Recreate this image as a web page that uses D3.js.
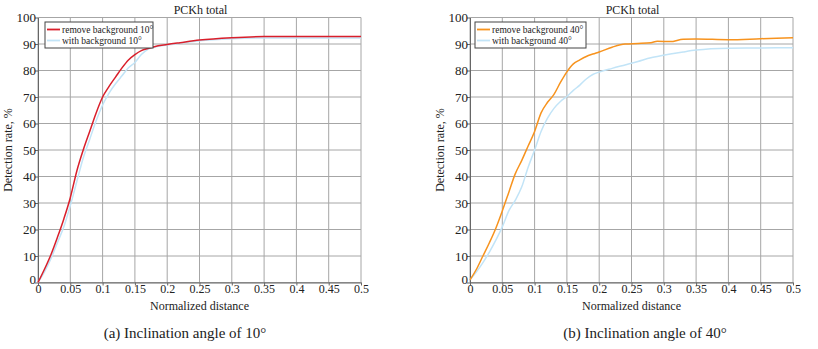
<!DOCTYPE html>
<html><head><meta charset="utf-8">
<script src="https://cdn.jsdelivr.net/npm/d3@7"></script>
<style>body{margin:0;background:#fff}svg{display:block}svg text{font-family:"Liberation Serif","Times New Roman",serif !important;fill:#222}</style>
</head><body><svg id="c" width="818" height="349"></svg>
<script>
const xTicks = [0,0.05,0.1,0.15,0.2,0.25,0.3,0.35,0.4,0.45,0.5];
const yTicks = [0,10,20,30,40,50,60,70,80,90,100];
const xTickLabels = ["0","0.05","0.1","0.15","0.2","0.25","0.3","0.35","0.4","0.45","0.5"];

const distA = [0,0.01,0.02,0.03,0.04,0.05,0.06,0.07,0.08,0.09,0.1,0.11,0.12,0.13,0.14,0.15,0.16,0.17,0.18,0.2,0.22,0.25,0.3,0.35,0.4,0.5];
const removeBg10 = [0,5,10.5,17,24,32,42,50,57,64,70,74,77.5,81,84,86,87.5,88.3,89,89.8,90.5,91.5,92.4,92.8,92.8,92.8];
const withBg10   = [0,4,9,15,21,29,38,47,54,61,67,71.5,75,78,81,83,86,88,88.8,89.6,90.3,91.2,92.0,92.3,92.3,92.3];

const distB = [0,0.01,0.02,0.03,0.04,0.05,0.06,0.07,0.08,0.09,0.1,0.11,0.12,0.13,0.14,0.15,0.16,0.17,0.18,0.19,0.2,0.22,0.24,0.26,0.28,0.29,0.31,0.33,0.35,0.4,0.45,0.5];
const removeBg40 = [1,5,10,15,20.5,27,34,41,46,51.5,57,64,68,71,75.5,79.5,82.5,84,85.3,86.2,87,88.8,90,90.2,90.5,91,90.9,91.8,91.9,91.6,92,92.4];
const withBg40   = [1,4,7.5,11.5,16,21,27,31,36,43.5,50,57,62,65.7,68.3,70.2,72.5,74.5,76.8,78.5,79.4,80.8,82.1,83.4,84.8,85.3,86.2,87,87.7,88.4,88.5,88.6];

const panels = [
  {x0:38, x1:361, dist:distA, series:[
     {name:"remove background 10°", values:removeBg10, color:"#d91f2b"},
     {name:"with background 10°", values:withBg10, color:"#c2e4f7"}],
   caption:"(a) Inclination angle of 10°", capX:185, legend:[45,22,108,26]},
  {x0:470, x1:793, dist:distB, series:[
     {name:"remove background 40°", values:removeBg40, color:"#f7931e"},
     {name:"with background 40°", values:withBg40, color:"#c2e4f7"}],
   caption:"(b) Inclination angle of 40°", capX:645, legend:[475,22,111,26]}
];

const svg = d3.select("#c");
const yTop = 17.5, yBot = 282.5;

panels.forEach(p => {
  const x = d3.scaleLinear().domain([0,0.5]).range([p.x0,p.x1]);
  const y = d3.scaleLinear().domain([0,100]).range([yBot,yTop]);
  const g = svg.append("g");
  g.selectAll(".vg").data(xTicks).join("line")
    .attr("x1",d=>x(d)).attr("x2",d=>x(d)).attr("y1",yTop).attr("y2",yBot)
    .attr("stroke","#a6a6a6").attr("stroke-width",1);
  g.selectAll(".hg").data(yTicks).join("line")
    .attr("x1",p.x0).attr("x2",p.x1).attr("y1",d=>y(d)).attr("y2",d=>y(d))
    .attr("stroke","#a6a6a6").attr("stroke-width",1);
  const ax = g.append("g").attr("transform",`translate(0,${yBot})`)
    .call(d3.axisBottom(x).tickValues(xTicks).tickFormat((d,i)=>xTickLabels[i]).tickSize(3).tickSizeOuter(0));
  ax.attr("font-family",null);
  ax.select(".domain").attr("stroke","#666");
  ax.selectAll("line").attr("stroke","#666");
  ax.selectAll("text").style("font-size","12px").attr("dy","0.6em").attr("y",3);
  const ay = g.append("g").attr("transform",`translate(${p.x0},0)`)
    .call(d3.axisLeft(y).tickValues(yTicks).tickSize(3).tickSizeOuter(0));
  ay.attr("font-family",null);
  ay.select(".domain").attr("stroke","#666");
  ay.selectAll("line").attr("stroke","#666");
  ay.selectAll("text").style("font-size","13px").attr("x",-2);
  ay.selectAll(".tick").filter(d=>d===0).select("text").attr("dy","0.1em");
  const line = d3.line().x((d,i)=>x(p.dist[i])).y(d=>y(d)).curve(d3.curveMonotoneX);
  [...p.series].reverse().forEach(s => {
    g.append("path").datum(s.values).attr("d",line).attr("fill","none")
      .attr("stroke",s.color).attr("stroke-width",1.5);
  });
  const cx = (p.x0+p.x1)/2;
  g.append("text").attr("x",cx+1).attr("y",14).attr("text-anchor","middle").style("font-size","12px").text("PCKh total");
  g.append("text").attr("x",cx).attr("y",310).attr("text-anchor","middle").style("font-size","12px").text("Normalized distance");
  g.append("text").attr("transform",`translate(${p.x0-26},${(yTop+yBot)/2}) rotate(-90)`)
    .attr("text-anchor","middle").style("font-size","12px").text("Detection rate, %");
  g.append("text").attr("x",p.capX).attr("y",338).attr("text-anchor","middle").style("font-size","15px").text(p.caption);
  const [lx,ly,lw,lh] = p.legend;
  const lg = g.append("g");
  lg.append("rect").attr("x",lx).attr("y",ly).attr("width",lw).attr("height",lh)
    .attr("fill","#fff").attr("stroke","#444").attr("stroke-width",1);
  p.series.forEach((s,i)=>{
    const yy = ly+7.5+i*11;
    lg.append("line").attr("x1",lx+2).attr("x2",lx+15).attr("y1",yy).attr("y2",yy)
      .attr("stroke",s.color).attr("stroke-width",1.8);
    lg.append("text").attr("x",lx+17).attr("y",yy+3.3).style("font-size","9.5px").text(s.name);
  });
});
</script></body></html>
